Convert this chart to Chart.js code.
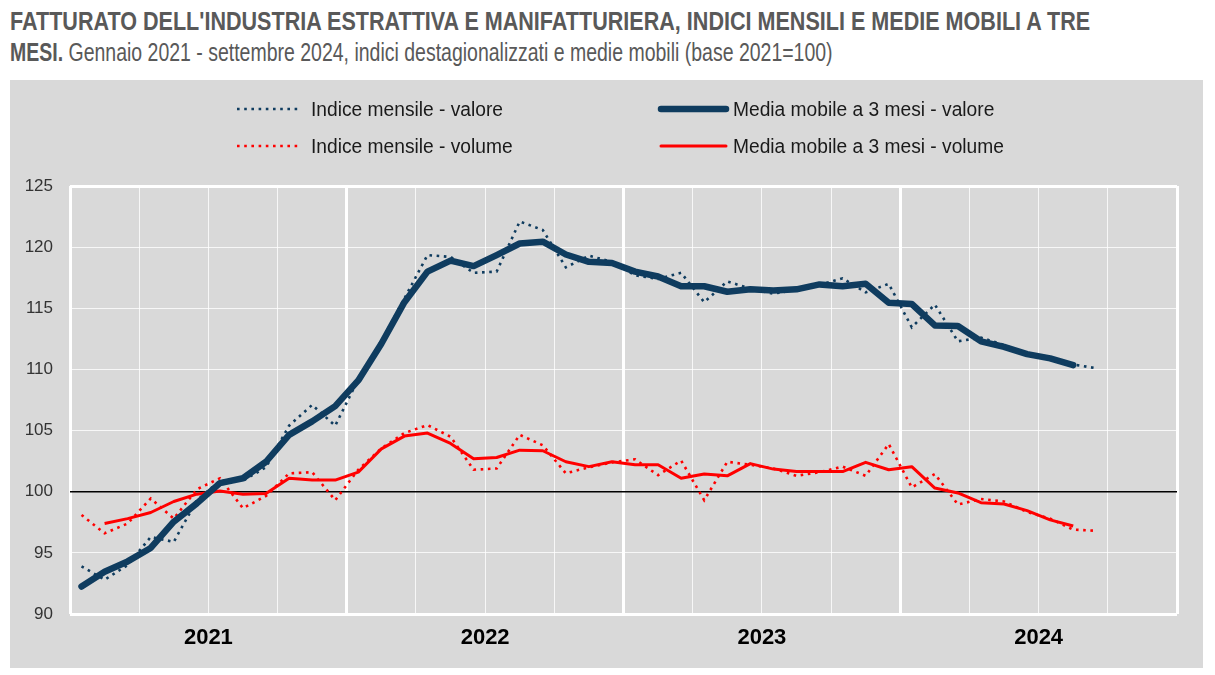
<!DOCTYPE html>
<html>
<head>
<meta charset="utf-8">
<script src="https://cdn.jsdelivr.net/npm/chart.js@4.4.1/dist/chart.umd.min.js"></script>
<style>
  html, body { margin: 0; padding: 0; background: #ffffff; }
  #wrap { position: relative; width: 1215px; height: 675px; overflow: hidden; }
  #box { position: absolute; left: 10px; top: 80px; width: 1193px; height: 588px; background: #d9d9d9; }
  .t { position: absolute; left: 10px; white-space: nowrap; color: #595959; transform-origin: 0 0;
    font-family: 'Liberation Sans', Arial, sans-serif; line-height: 1; }
  #t1 { top: 9px; font-size: 25px; font-weight: bold; }
  #t2 { top: 40px; font-size: 25px; }
  #t2 b { font-weight: bold; }
  #c { position: absolute; left: 0; top: 0; }
</style>
</head>
<body>
<div id="wrap">
  <div id="box"></div>
  <div id="t1" class="t">FATTURATO DELL'INDUSTRIA ESTRATTIVA E MANIFATTURIERA, INDICI MENSILI E MEDIE MOBILI A TRE</div>
  <div id="t2" class="t"><b>MESI.</b> Gennaio 2021 - settembre 2024, indici destagionalizzati e medie mobili (base 2021=100)</div>
  <canvas id="c" width="1215" height="675"></canvas>
</div>
<script>
// condensed look for the title (Arial Narrow is not installed)
(function () {
  const t1 = document.getElementById('t1'), t2 = document.getElementById('t2');
  t1.style.transform = 'scaleX(' + (1080 / t1.offsetWidth) + ')';
  t2.style.transform = 'scaleX(' + (823 / t2.offsetWidth) + ')';
})();

// ---- data (Jan 2021 .. Sep 2024) ----
const years = ['2021', '2022', '2023', '2024'];
const months = [];
for (const y of years) for (const m of ['gen','feb','mar','apr','mag','giu','lug','ago','set','ott','nov','dic']) months.push(m + ' ' + y);

const valoreMensile = [
  93.9, 92.8, 94.0, 96.3, 95.9, 99.3, 100.9, 100.9, 102.0, 105.4, 107.1, 105.4,
  109.2, 112.3, 115.8, 119.35, 119.2, 117.9, 118.0, 122.1, 121.4, 118.35, 119.3, 118.8,
  117.7, 117.4, 117.9, 115.5, 117.2, 116.6, 116.2, 116.5, 116.9, 117.45, 116.3, 117.0,
  113.45, 115.3, 112.3, 112.6, 112.0, 111.2, 110.9, 110.4, 110.1
];
const valoreMedia = [
  92.25, 93.45, 94.3, 95.4, 97.55, 99.05, 100.7, 101.1, 102.45, 104.65, 105.75, 107.0,
  109.1, 112.1, 115.5, 118.0, 118.9, 118.45, 119.35, 120.3, 120.45, 119.4, 118.8, 118.7,
  118.0, 117.6, 116.8, 116.8, 116.35, 116.55, 116.45, 116.55, 116.95, 116.8, 117.0, 115.45,
  115.35, 113.6, 113.55, 112.3, 111.85, 111.25, 110.9, 110.35, null
];
const volumeMensile = [
  98.1, 96.6, 97.4, 99.45, 97.8, 100.2, 101.1, 98.65, 99.65, 101.5, 101.6, 99.3,
  101.8, 103.55, 104.8, 105.45, 104.5, 101.8, 101.9, 104.65, 103.8, 101.5, 102.0, 102.4,
  102.65, 101.35, 102.55, 99.3, 102.45, 102.2, 101.9, 101.3, 101.6, 102.05, 101.3, 103.9,
  100.35, 101.45, 98.95, 99.4, 99.2, 98.35, 97.8, 96.9, 96.8
];
const volumeMedia = [
  null, 97.4, 97.8, 98.3, 99.2, 99.8, 100.05, 99.8, 99.85, 101.1, 100.95, 100.95,
  101.6, 103.5, 104.55, 104.8, 103.95, 102.7, 102.8, 103.4, 103.35, 102.45, 102.05, 102.45,
  102.2, 102.2, 101.1, 101.45, 101.3, 102.3, 101.85, 101.65, 101.65, 101.65, 102.4, 101.8,
  102.05, 100.3, 99.9, 99.1, 99.0, 98.45, 97.7, 97.2, null
];
const yTicks = [90, 95, 100, 105, 110, 115, 120, 125];
const seriesNames = ['Indice mensile - valore', 'Media mobile a 3 mesi - valore',
                     'Indice mensile - volume', 'Media mobile a 3 mesi - volume'];

const NAVY = '#0f3c5f';
const RED = '#ff0000';
const pts = arr => arr.map((v, i) => ({ x: i + 0.5, y: v }));

const refLine = {
  id: 'refLine',
  beforeDatasetsDraw(chart) {
    const { ctx, chartArea, scales } = chart;
    const y = scales.y.getPixelForValue(100);
    ctx.save();
    ctx.strokeStyle = '#000000';
    ctx.lineWidth = 1.6;
    ctx.beginPath();
    ctx.moveTo(chartArea.left, y);
    ctx.lineTo(chartArea.right, y);
    ctx.stroke();
    ctx.restore();
  }
};

const legendPlugin = {
  id: 'customLegend',
  afterDraw(chart) {
    const { ctx } = chart;
    const items = [
      { ds: 0, x1: 237, x2: 300, tx: 311, y: 109 },
      { ds: 2, x1: 237, x2: 300, tx: 311, y: 146 },
      { ds: 1, x1: 661, x2: 726, tx: 733, y: 109 },
      { ds: 3, x1: 661, x2: 726, tx: 733, y: 146 }
    ];
    ctx.save();
    ctx.font = '20px "Liberation Sans", Arial, sans-serif';
    const k = 192 / ctx.measureText(chart.data.datasets[0].label).width;
    for (const it of items) {
      const d = chart.data.datasets[it.ds];
      ctx.strokeStyle = d.borderColor;
      ctx.lineWidth = d.borderWidth;
      ctx.setLineDash(d.borderDash || []);
      ctx.lineCap = d.borderDash ? 'butt' : 'round';
      ctx.beginPath();
      ctx.moveTo(it.x1, it.y);
      ctx.lineTo(it.x2, it.y);
      ctx.stroke();
      ctx.setLineDash([]);
      ctx.save();
      ctx.translate(it.tx, it.y);
      ctx.scale(k, 1);
      ctx.fillStyle = '#1a1a1a';
      ctx.textBaseline = 'middle';
      ctx.textAlign = 'left';
      ctx.fillText(d.label, 0, 1);
      ctx.restore();
    }
    ctx.restore();
  }
};

new Chart(document.getElementById('c'), {
  type: 'line',
  data: {
    datasets: [
      { label: seriesNames[0], data: pts(valoreMensile), borderColor: NAVY, borderWidth: 2.6,
        borderDash: [2.6, 4.6], pointRadius: 0, tension: 0, order: 3 },
      { label: seriesNames[1], data: pts(valoreMedia), borderColor: NAVY, borderWidth: 6.5,
        pointRadius: 0, tension: 0, order: 1, borderCapStyle: 'round', borderJoinStyle: 'round' },
      { label: seriesNames[2], data: pts(volumeMensile), borderColor: RED, borderWidth: 2.6,
        borderDash: [2.6, 4.6], pointRadius: 0, tension: 0, order: 4 },
      { label: seriesNames[3], data: pts(volumeMedia), borderColor: RED, borderWidth: 3,
        pointRadius: 0, tension: 0, order: 2, borderJoinStyle: 'round' }
    ]
  },
  options: {
    responsive: false,
    animation: false,
    events: [],
    layout: { padding: { left: 0, right: 38, top: 186, bottom: 0 } },
    plugins: { legend: { display: false }, tooltip: { enabled: false }, title: { display: false } },
    scales: {
      x: {
        type: 'linear', min: 0, max: 48,
        afterFit(s) { s.height = 61; },
        ticks: {
          stepSize: 3, autoSkip: false, maxRotation: 0, padding: 11,
          color: '#000000',
          font: { family: "'Liberation Sans', Arial, sans-serif", size: 22, weight: 'bold' },
          callback: v => (v % 12 === 6 ? years[(v - 6) / 12] : '')
        },
        grid: {
          drawTicks: false,
          color: '#ffffff',
          lineWidth: c => (c.tick && c.tick.value % 12 === 0 ? 3 : 0.8)
        },
        border: { display: false }
      },
      y: {
        min: 90, max: 125,
        afterFit(s) { s.width = 70; },
        afterBuildTicks(s) { s.ticks = yTicks.map(v => ({ value: v })); },
        ticks: {
          padding: 17, color: '#333333',
          font: { family: "'Liberation Sans', Arial, sans-serif", size: 17 }
        },
        grid: {
          drawTicks: false,
          color: '#ffffff',
          lineWidth: c => (c.tick && (c.tick.value === 90 || c.tick.value === 125) ? 3 : 0.8)
        },
        border: { display: false }
      }
    }
  },
  plugins: [refLine, legendPlugin]
});
</script>
</body>
</html>
